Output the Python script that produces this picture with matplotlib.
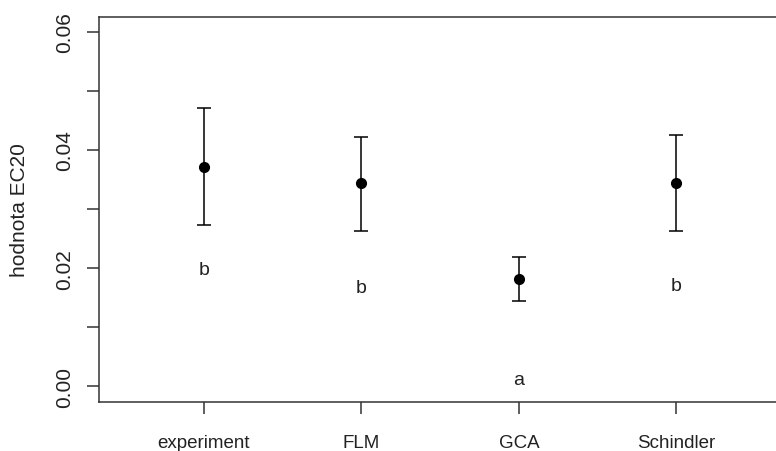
import matplotlib
matplotlib.use("Agg")
import matplotlib.pyplot as plt

plt.rcParams["font.family"] = ["Liberation Sans", "DejaVu Sans"]

# EC20 estimates per method, with interval bounds and group letters
methods = ["experiment", "FLM", "GCA", "Schindler"]
ec20 = [0.0371, 0.0344, 0.0181, 0.0344]
lower = [0.0273, 0.0263, 0.0144, 0.0263]
upper = [0.0471, 0.0422, 0.0219, 0.0425]
groups = ["b", "b", "a", "b"]
group_y = [0.0198, 0.0168, 0.0012, 0.0171]

yticks = [0.00, 0.01, 0.02, 0.03, 0.04, 0.05, 0.06]
ytick_labels = ["0.00", "", "0.02", "", "0.04", "", "0.06"]

ink = "#222222"

fig = plt.figure(figsize=(7.76, 4.52), dpi=100)
ax = fig.add_axes([0.1276, 0.109, 0.878, 0.851])

x = list(range(1, len(methods) + 1))
err = [[m - lo for m, lo in zip(ec20, lower)], [hi - m for m, hi in zip(ec20, upper)]]
ax.errorbar(x, ec20, yerr=err, fmt="o", color="black", ms=7,
            ecolor="black", elinewidth=1.1, capsize=5, capthick=1.1)

for xi, g, gy in zip(x, groups, group_y):
    ax.text(xi, gy, g, ha="center", va="center", fontsize=14, color=ink)

ax.set_xlim(0.334, 4.66)
ax.set_ylim(-0.0026, 0.0625)
ax.set_xticks(x)
ax.set_xticklabels(methods, fontsize=13.5)
ax.set_yticks(yticks)
ax.set_yticklabels(ytick_labels, rotation=90, va="center", fontsize=15)
ax.set_ylabel("hodnota EC20", fontsize=15, color=ink, va="center")
ax.yaxis.set_label_coords(-0.117, 0.5)

ax.tick_params(axis="both", direction="out", length=8.6, width=1.1,
               color="#333333", labelcolor=ink)
ax.tick_params(axis="x", pad=14.5)
ax.tick_params(axis="y", pad=9)
for s in ax.spines.values():
    s.set_color("#333333")
    s.set_linewidth(1.1)

fig.savefig("out.png", dpi=100)
